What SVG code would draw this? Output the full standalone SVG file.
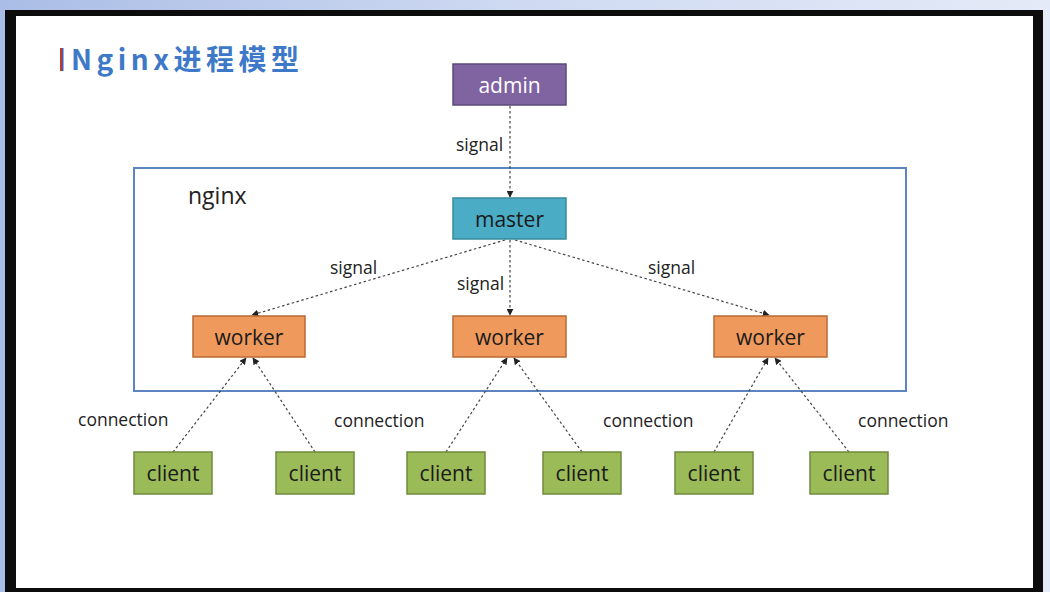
<svg xmlns="http://www.w3.org/2000/svg" width="1050" height="592" viewBox="0 0 1050 592">
<defs>
<linearGradient id="bg" x1="0" y1="0" x2="1" y2="0"><stop offset="0" stop-color="#aabde6"/><stop offset="0.5" stop-color="#cfdaf2"/><stop offset="1" stop-color="#e4eaf7"/></linearGradient>
<marker id="ah" viewBox="0 0 10 10" refX="9" refY="5" markerWidth="7" markerHeight="7" orient="auto-start-reverse" markerUnits="userSpaceOnUse"><path d="M0,0 L10,5 L0,10 z" fill="#222"/></marker>
</defs>
<style>
.lbl{font-family:"Open Sans","Liberation Sans",sans-serif;font-size:17.5px;fill:#222}
.big{font-size:23px}
.nt{font-family:"Open Sans","Liberation Sans",sans-serif;font-size:21px;text-anchor:middle;dominant-baseline:central}
.con{stroke:#444;stroke-width:1.2;stroke-dasharray:2.5 2.5;fill:none;marker-end:url(#ah)}
.worker rect{fill:#EF9A5C;stroke:#B86A35;stroke-width:1.5}
.client rect{fill:#9BBB59;stroke:#6F8A3C;stroke-width:1.5}
</style>
<rect x="0" y="0" width="1050" height="592" fill="url(#bg)"/>
<rect x="5" y="10" width="1038" height="590" fill="#0c0c0c"/>
<rect x="16" y="16" width="1017" height="572" fill="#ffffff"/>
<g id="title">
<rect x="60" y="48" width="2.5" height="23" fill="#c0392b"/>
<rect x="62" y="48" width="1.5" height="23" fill="#3b5fc0"/>
<text x="71" y="70" font-family="'Noto Sans CJK SC','Noto Sans',sans-serif" font-size="28" font-weight="bold" fill="#3E78C8" letter-spacing="4.5">Nginx进程模型</text>
</g>
<g id="nginx">
<rect x="134" y="168" width="772" height="223" fill="none" stroke="#5B84C0" stroke-width="2"/>
<text x="188" y="204" class="lbl big">nginx</text>
</g>
<g id="connectors">
<line class="con" x1="510" y1="106" x2="510" y2="197"/>
<line class="con" x1="505" y1="240" x2="252" y2="315"/>
<line class="con" x1="510" y1="240" x2="510" y2="315"/>
<line class="con" x1="515" y1="240" x2="769" y2="315"/>
<line class="con" x1="173" y1="452" x2="246" y2="358"/>
<line class="con" x1="315" y1="452" x2="253" y2="358"/>
<line class="con" x1="446" y1="452" x2="507" y2="358"/>
<line class="con" x1="582" y1="452" x2="514" y2="358"/>
<line class="con" x1="714" y1="452" x2="768" y2="358"/>
<line class="con" x1="849" y1="452" x2="775" y2="358"/>
<text class="lbl" x="456" y="151">signal</text>
<text class="lbl" x="330" y="274">signal</text>
<text class="lbl" x="457" y="290">signal</text>
<text class="lbl" x="648" y="274">signal</text>
<text class="lbl" x="78" y="426">connection</text>
<text class="lbl" x="334" y="427">connection</text>
<text class="lbl" x="603" y="427">connection</text>
<text class="lbl" x="858" y="427">connection</text>
</g>
<g id="admin"><rect x="453" y="64" width="113" height="41" fill="#8064A2" stroke="#5C4A7D" stroke-width="1.5"/><text class="nt" x="509.5" y="85" fill="#ffffff">admin</text></g>
<g id="master"><rect x="453" y="198" width="113" height="41" fill="#4BACC6" stroke="#3A8A9E" stroke-width="1.5"/><text class="nt" x="509.5" y="219" fill="#1a1a1a">master</text></g>
<g id="worker1" class="worker"><rect x="193" y="316" width="112" height="41"/><text class="nt" x="249" y="337" fill="#1a1a1a">worker</text></g>
<g id="worker2" class="worker"><rect x="453" y="316" width="113" height="41"/><text class="nt" x="509.5" y="337" fill="#1a1a1a">worker</text></g>
<g id="worker3" class="worker"><rect x="714" y="316" width="113" height="41"/><text class="nt" x="770.5" y="337" fill="#1a1a1a">worker</text></g>
<g id="client1" class="client"><rect x="134" y="452" width="78" height="42"/><text class="nt" x="173" y="473" fill="#1a1a1a">client</text></g>
<g id="client2" class="client"><rect x="276" y="452" width="78" height="42"/><text class="nt" x="315" y="473" fill="#1a1a1a">client</text></g>
<g id="client3" class="client"><rect x="407" y="452" width="78" height="42"/><text class="nt" x="446" y="473" fill="#1a1a1a">client</text></g>
<g id="client4" class="client"><rect x="543" y="452" width="78" height="42"/><text class="nt" x="582" y="473" fill="#1a1a1a">client</text></g>
<g id="client5" class="client"><rect x="675" y="452" width="78" height="42"/><text class="nt" x="714" y="473" fill="#1a1a1a">client</text></g>
<g id="client6" class="client"><rect x="810" y="452" width="78" height="42"/><text class="nt" x="849" y="473" fill="#1a1a1a">client</text></g>
</svg>
